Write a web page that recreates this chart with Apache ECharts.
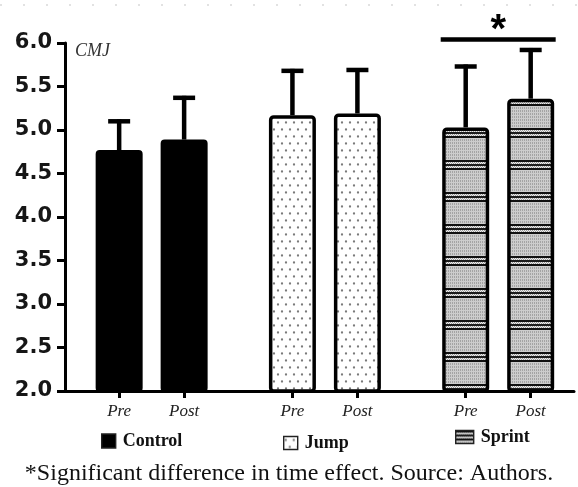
<!DOCTYPE html>
<html>
<head>
<meta charset="utf-8">
<script src="https://cdn.jsdelivr.net/npm/echarts@6/dist/echarts.min.js"></script>
<style>
  html, body { margin: 0; padding: 0; background: #fff; }
  #chart { width: 578px; height: 487px; }
</style>
</head>
<body>
<div id="chart"></div>
<script>
// ---------- data ----------
const groups = ['Control', 'Jump', 'Sprint'];
const timeLabels = ['Pre', 'Post'];
// slot positions of the bars along the x axis (Pre, Post for each group)
const slotPositions = [[2.5, 5.5], [10.5, 13.5], [18.5, 21.5]];
const meanValues = [[4.77, 4.89], [5.17, 5.19], [5.03, 5.36]];
const upperValues = [[5.10, 5.37], [5.68, 5.69], [5.73, 5.92]];
const yTicks = [2.0, 2.5, 3.0, 3.5, 4.0, 4.5, 5.0, 5.5, 6.0];
const panelLabel = 'CMJ';
const caption = '*Significant difference in time effect. Source: Authors.';

// ---------- patterns ----------
function dotPattern() {
  const c = document.createElement('canvas');
  c.width = 8; c.height = 14;
  const g = c.getContext('2d');
  g.fillStyle = '#fff'; g.fillRect(0, 0, 8, 14);
  g.fillStyle = '#7a7a7a';
  [[2, 3.5], [6, 10.5]].forEach(([x, y]) => {
    g.beginPath(); g.arc(x, y, 1.15, 0, Math.PI * 2); g.fill();
  });
  return c;
}
function gridPattern() {
  const W = 4, H = 32;
  const c = document.createElement('canvas');
  c.width = W; c.height = H;
  const g = c.getContext('2d');
  g.fillStyle = '#a4a4a4'; g.fillRect(0, 0, W, H);
  g.fillStyle = '#cdcdcd';
  for (let x = 1; x < W; x += 2) g.fillRect(x, 0, 1, H);
  for (let y = 1; y < H; y += 3) g.fillRect(0, y, W, 1);
  // dark bands
  const band = (y, h, col) => { g.fillStyle = col; g.fillRect(0, y, W, h); };
  band(0, 2, '#111');
  band(2, 2, '#eeeeee');
  band(4, 2, '#1c1c1c');
  band(6, 2, '#eeeeee');
  band(8, 2, '#111');
  g.fillStyle = '#9a9a9a';
  for (let x = 0; x < W; x += 2) { g.fillRect(x, 2, 1, 1); g.fillRect(x + 1, 3, 1, 1); g.fillRect(x, 6, 1, 1); g.fillRect(x + 1, 7, 1, 1); }
  return c;
}
const fills = [
  '#000',
  { image: dotPattern(), repeat: 'repeat' },
  { image: gridPattern(), repeat: 'repeat' }
];

// ---------- series ----------
const barSeries = groups.map((name, gi) => ({
  name: name,
  type: 'bar',
  barWidth: 47,
  barGap: '-100%',
  z: 3,
  itemStyle: {
    color: fills[gi],
    borderColor: '#000',
    borderWidth: gi === 0 ? 2 : 3.5,
    borderRadius: 3
  },
  data: slotPositions[gi].map((x, i) => [x, meanValues[gi][i]])
}));

const errData = [];
groups.forEach((g, gi) => slotPositions[gi].forEach((x, i) => errData.push([x, meanValues[gi][i], upperValues[gi][i]])));

const errorSeries = {
  name: 'err',
  type: 'custom',
  z: 2,
  data: errData,
  renderItem: function (params, api) {
    const x = api.value(0), m = api.value(1), u = api.value(2);
    const p0 = api.coord([x, m]);
    const p1 = api.coord([x, u]);
    return {
      type: 'group',
      children: [
        { type: 'line', shape: { x1: p0[0], y1: p0[1], x2: p1[0], y2: p1[1] - 2 }, style: { stroke: '#000', lineWidth: 4.5 } },
        { type: 'line', shape: { x1: p1[0] - 11, y1: p1[1], x2: p1[0] + 11, y2: p1[1] }, style: { stroke: '#000', lineWidth: 4.5 } }
      ]
    };
  }
};

const allSlots = [].concat(...slotPositions);
const slotLabel = {};
slotPositions.forEach(pair => pair.forEach((x, i) => { slotLabel[x] = timeLabels[i]; }));

const legendCommon = {
  orient: 'horizontal',
  padding: 0,
  itemGap: 0,
  icon: 'rect',
  selectedMode: false,
  textStyle: { fontFamily: 'Liberation Serif', fontWeight: 'bold', fontSize: 18, color: '#111', padding: [0, 0, 0, 2] },
  itemStyle: { borderColor: '#222', borderWidth: 1.4 }
};

const chart = echarts.init(document.getElementById('chart'), null, { renderer: 'canvas' });
const option = {
  animation: false,
  backgroundColor: '#fff',
  grid: { left: 65, right: 4, top: 43, bottom: 96 },
  xAxis: {
    type: 'value',
    min: 0,
    max: 23.5,
    splitLine: { show: false },
    axisLine: { show: true, onZero: false, lineStyle: { color: '#000', width: 3 } },
    axisTick: { show: true, customValues: allSlots, length: 7, lineStyle: { color: '#000', width: 3 } },
    axisLabel: {
      customValues: allSlots,
      margin: 12,
      formatter: v => slotLabel[v] || '',
      fontFamily: 'Liberation Serif', fontStyle: 'italic', fontSize: 17, color: '#222'
    }
  },
  yAxis: {
    type: 'value',
    min: 2,
    max: 6,
    interval: 0.5,
    splitLine: { show: false },
    axisLine: { show: true, lineStyle: { color: '#000', width: 3 } },
    axisTick: { show: true, length: 8, lineStyle: { color: '#000', width: 3 } },
    axisLabel: {
      margin: 13,
      formatter: v => v.toFixed(1),
      fontFamily: 'DejaVu Sans', fontWeight: 'bold', fontSize: 21, color: '#161616'
    }
  },
  legend: [
    Object.assign({}, legendCommon, { data: ['Control'], left: 101, top: 432, itemWidth: 14, itemHeight: 14 }),
    Object.assign({}, legendCommon, { data: ['Jump'], left: 283, top: 434, itemWidth: 14, itemHeight: 13 }),
    Object.assign({}, legendCommon, { data: ['Sprint'], left: 455, top: 428, itemWidth: 18, itemHeight: 13 })
  ],
  series: barSeries.concat([errorSeries])
};
chart.setOption(option);

// ---------- annotations (placed via the chart's own scales) ----------
const sprintPre = chart.convertToPixel({ gridIndex: 0 }, [slotPositions[2][0], 6.04]);
const sprintPost = chart.convertToPixel({ gridIndex: 0 }, [slotPositions[2][1], 6.04]);
const half = 47 / 2 + 1.5;
chart.setOption({
  graphic: [
    { type: 'line', shape: { x1: 0, y1: 5, x2: 578, y2: 5 }, style: { stroke: '#e2e2e2', lineWidth: 2, lineDash: [2, 21] }, silent: true },
    { type: 'line', shape: { x1: sprintPre[0] - half, y1: sprintPre[1], x2: sprintPost[0] + half, y2: sprintPost[1] }, style: { stroke: '#000', lineWidth: 4.5 } },
    { type: 'text', x: (sprintPre[0] + sprintPost[0]) / 2, y: 31, style: { text: '*', font: 'bold 40px Liberation Sans', fill: '#000', textAlign: 'center', textVerticalAlign: 'middle' } },
    { type: 'text', x: 75, y: 51, style: { text: panelLabel, font: 'italic 18px Liberation Serif', fill: '#333', textAlign: 'left', textVerticalAlign: 'middle' } },
    { type: 'text', x: 289, y: 474, style: { text: caption, font: '24px Liberation Serif', fill: '#111', textAlign: 'center', textVerticalAlign: 'middle' } }
  ]
});
</script>
</body>
</html>
